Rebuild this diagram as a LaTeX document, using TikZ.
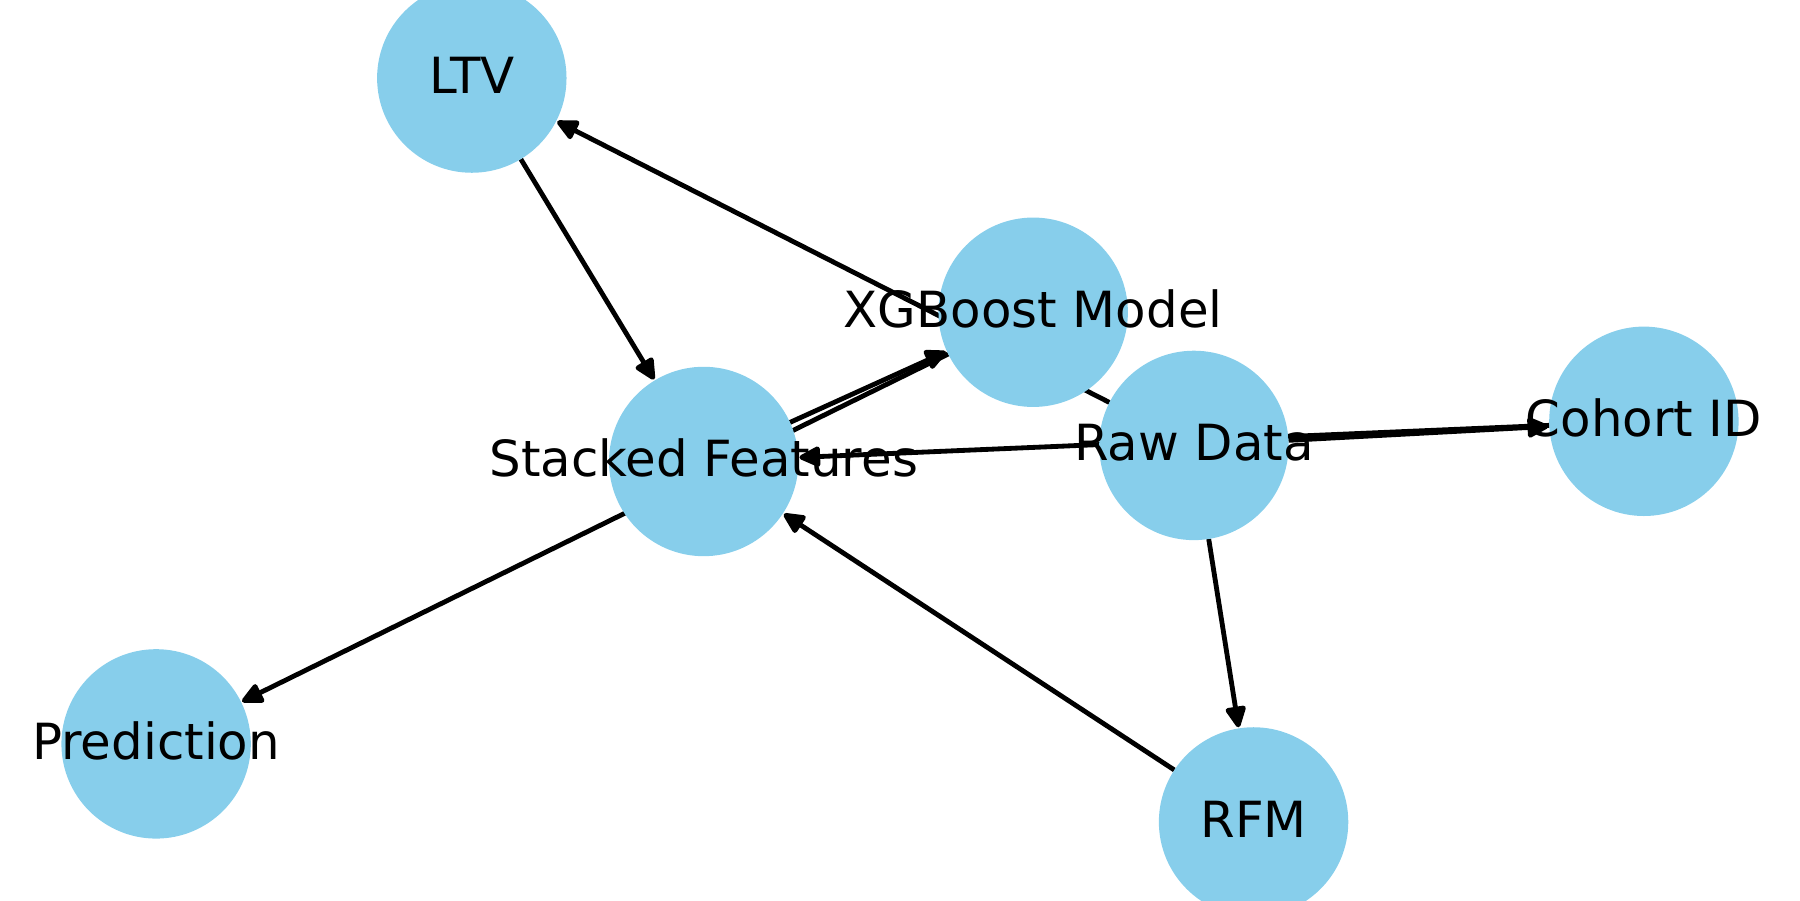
\documentclass[tikz,border=0pt]{standalone}
\usepackage{fontspec}
\setmainfont{DejaVu Sans}
\usetikzlibrary{arrows.meta}
\definecolor{skyb}{HTML}{87CEEB}
\pgfdeclarelayer{bg}
\pgfdeclarelayer{fg}
\pgfsetlayers{bg,main,fg}
\begin{document}
\begin{tikzpicture}[x=1pt,y=-1pt,
  gnode/.style={circle,fill=skyb,minimum size=165pt,inner sep=0pt,outer sep=0pt},
  glabel/.style={inner sep=0pt,font=\fontsize{43.4}{50}\selectfont,text height=31.6pt,text depth=5pt},
  edge/.style={line width=4.2pt,-{Triangle[length=21pt,width=19pt,line join=round]},shorten >=1pt}]
\useasboundingbox (0,0) rectangle (1568,784);
\node[gnode] (ltv) at (411,68) {};
\node[gnode] (xgb) at (900,272) {};
\node[gnode] (raw) at (1040,388) {};
\node[gnode] (coh) at (1432,367) {};
\node[gnode] (stk) at (613,402) {};
\node[gnode] (pred) at (136,648) {};
\node[gnode] (rfm) at (1092,716) {};
\begin{pgfonlayer}{fg}
\node[glabel] (ltvL) at (ltv) {LTV};
\node[glabel] (xgbL) at (xgb) {XGBoost Model};
\node[glabel] (rawL) at (raw) {Raw Data};
\node[glabel] (cohL) at (coh) {Cohort ID};
\node[glabel] (stkL) at (stk) {Stacked Features};
\node[glabel] (predL) at (pred) {Prediction};
\node[glabel] (rfmL) at (rfm) {RFM};
\end{pgfonlayer}
\begin{pgfonlayer}{bg}
\draw[edge] (raw) -- (ltv);
\draw[edge] (ltv) -- (stk);
\draw[edge] (stk) -- (xgb);
\draw[edge] (xgb) -- (pred);
\draw[edge] (raw) -- (coh);
\draw[edge] (coh) -- (stk);
\draw[edge] (raw) -- (rfm);
\draw[edge] (rfm) -- (stk);
\end{pgfonlayer}
\end{tikzpicture}
\end{document}
